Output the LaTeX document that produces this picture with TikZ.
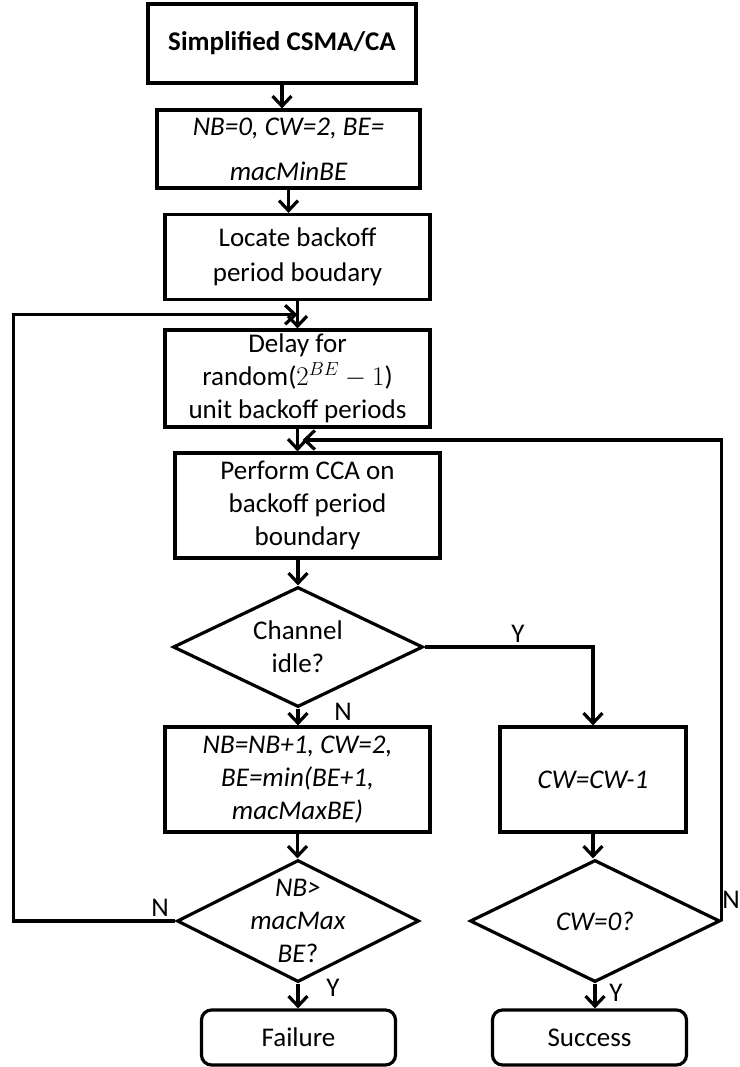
\RequirePackage{fix-cm}
\documentclass[tikz,border=0pt]{standalone}
\usepackage{fontspec}
\setmainfont{Carlito}
\usetikzlibrary{arrows.meta,calc,shapes.geometric}

\begin{document}
\begin{tikzpicture}[x=1pt,y=-1pt,line width=3.2pt,font=\fontsize{27}{33}\selectfont,
	box/.style 2 args={draw,align=center,inner sep=0pt,minimum width=#1,minimum height=#2},
	dec/.style 2 args={draw,diamond,inner sep=0pt,minimum width=#1,minimum height=#2},
	term/.style={draw,rounded corners=10pt,minimum width=194,minimum height=55},
	arr/.style={-{Straight Barb[length=10pt,width=19pt]}}]
	\useasboundingbox (0,0) rectangle (739,1067);
	\node[box={268}{79},font=\fontsize{27}{33}\selectfont\bfseries] (start) at (282,43.5) {Simplified CSMA/CA};
	\node[box={263}{78},font=\fontsize{27}{45}\selectfont\itshape] (init) at (288.5,149) {NB=0, CW=2, BE=\\macMinBE};
	\node[box={265}{85},font=\fontsize{27}{35}\selectfont] (locate) at (297.5,257) {Locate backoff\\period boudary};
	\node[box={265}{97}] (delay) at (297.5,378.5) {Delay for\\random($2^{BE}-1$)\\unit backoff periods};
	\node[box={265}{105}] (cca) at (307.5,505.5) {Perform CCA on\\backoff period\\boundary};
	\node[dec={250}{120}] (idle) at (298,647) {};
	\node[box={265}{105},font=\fontsize{27}{33}\selectfont\itshape] (upd) at (297.5,779.5) {NB=NB+1, CW=2,\\BE=min(BE+1,\\macMaxBE)};
	\node[box={186}{105},font=\fontsize{27}{33}\selectfont\itshape] (decr) at (593,779.5) {CW=CW-1};
	\node[dec={242}{122}] (maxbe) at (298,921) {};
	\node[dec={250}{122}] (cwzero) at (595,921) {};
	\node[term] (fail) at (298.5,1037.5) {Failure};
	\node[term] (succ) at (589.5,1037.5) {Success};
	% texts of the decisions
	\node[align=center] (idletxt) at (idle) {Channel\\idle?};
	\node[align=center] (maxbetxt) at (maxbe) {\textit{NB>}\\\textit{macMax}\\\textit{BE}?};
	\node (cwzerotxt) at (cwzero) {\textit{CW=0?}};
	% connectors
	\foreach \a/\b in {start/init,init/locate,locate/delay,delay/cca,idle/upd,upd/maxbe,decr/cwzero,maxbe/fail,cwzero/succ}
		\draw[arr] (\a.south) -- (\a.south |- \b.north);
	\draw[arr] (cca.south -| idle.north) -- (idle.north);
	\draw[arr] (idle.east) -| (decr.north);
	\draw[arr] (maxbe.west) -- ++(-162,0) |- ($(locate.south)!.5!(delay.north)$);
	\draw[arr] (cwzero.east) |- ($(delay.south)!.5!(cca.north)$);
	% answers
	\foreach \x/\y/\t [count=\i] in {518/634/Y,343/712/N,160/908/N,333/988/Y,616/993/Y,731/900/N}
		\node (ans\i) at (\x,\y) {\t};
\end{tikzpicture}
\end{document}
